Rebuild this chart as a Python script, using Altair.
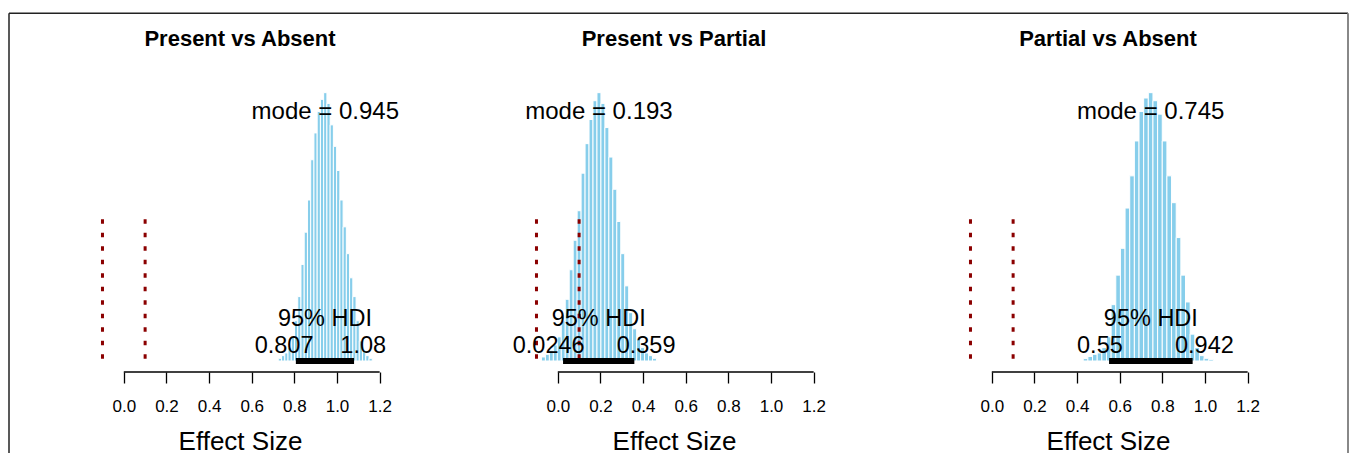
import altair as alt
import pandas as pd

# ---------------- data ----------------
titles = ["Present vs Absent", "Present vs Partial", "Partial vs Absent"]
modes = [0.945, 0.193, 0.745]
hdi_low = [0.807, 0.0246, 0.55]
hdi_high = [1.08, 0.359, 0.942]
hdi_low_text = ["0.807", "0.0246", "0.55"]
hdi_high_text = ["1.08", "0.359", "0.942"]
rope = [-0.1, 0.1]
tick_values = [0.0, 0.2, 0.4, 0.6, 0.8, 1.0, 1.2]

# histogram breaks (first break, bin width) and bar heights (relative density)
bin_start = [0.7246, -0.0767, 0.4289]
bin_width = [0.0152, 0.0186, 0.0218]
heights_1 = [0.01, 0.02, 0.03, 0.05, 0.09, 0.15, 0.24, 0.36, 0.48, 0.60, 0.75, 0.85,
             0.93, 0.975, 1.0, 0.96, 0.88, 0.80, 0.71, 0.60, 0.50, 0.40, 0.31, 0.24,
             0.15, 0.075, 0.04, 0.02, 0.01]
heights_2 = [0.015, 0.025, 0.04, 0.06, 0.09, 0.15, 0.23, 0.34, 0.45, 0.56, 0.70, 0.81,
             0.90, 0.97, 1.0, 0.96, 0.87, 0.76, 0.64, 0.52, 0.40, 0.28, 0.18, 0.12,
             0.08, 0.05, 0.03, 0.02, 0.01]
heights_3 = [0.009, 0.017, 0.025, 0.03, 0.05, 0.09, 0.21, 0.32, 0.42, 0.57, 0.69, 0.82,
             0.93, 0.98, 1.0, 0.97, 0.92, 0.82, 0.69, 0.59, 0.46, 0.32, 0.22, 0.10,
             0.05, 0.02, 0.01, 0.006]
heights = [heights_1, heights_2, heights_3]

# ---------------- layout / style ----------------
PW, PH = 434, 311
X_DOMAIN = [-0.4728, 1.5628]
Y_DOMAIN = [-0.041, 1.118]
MODE_Y, HDI_TXT_Y, LIM_Y, ROPE_TOP = 0.9, 0.13, 0.03, 0.528
FONT = "Liberation Sans"
TXT = 23.5
MODE_TXT = 24


def text_width(s, size=TXT):
    return sum((0.278 if c == "." else 0.556) for c in s) * size


def panel(i):
    xs = alt.Scale(domain=X_DOMAIN, nice=False, zero=False)
    ys = alt.Scale(domain=Y_DOMAIN, nice=False, zero=False)
    w = bin_width[i]
    h = heights[i]
    edges = [bin_start[i] + k * w for k in range(len(h))]
    hist = pd.DataFrame({"x0": edges, "x1": [e + w for e in edges], "h": h, "z": 0.0})

    bars = alt.Chart(hist).mark_bar(color="#87CEEB", stroke="white", strokeWidth=1).encode(
        x=alt.X("x0:Q", scale=xs, axis=alt.Axis(
            values=tick_values, format=".1f", domain=False, grid=False,
            tickColor="black", tickSize=11, tickWidth=1.3, labelFlush=False,
            labelFontSize=17, labelFont=FONT, labelColor="black", labelPadding=15,
            title="Effect Size", titleFontSize=26, titleFont=FONT,
            titleFontWeight="normal", titleColor="black", titlePadding=14)),
        x2="x1:Q",
        y=alt.Y("h:Q", scale=ys, axis=None),
        y2="z:Q",
    )

    axis_df = pd.DataFrame({"a": [tick_values[0]], "b": [tick_values[-1]]})
    axis_line = alt.Chart(axis_df).mark_rule(color="black", strokeWidth=1.3).encode(
        x=alt.X("a:Q", scale=xs), x2="b:Q", y=alt.value(PH))

    rope_df = pd.DataFrame({"x": rope, "top": [ROPE_TOP] * 2, "z": [0.0] * 2})
    rope_lines = alt.Chart(rope_df).mark_rule(
        color="#8B0000", strokeWidth=3, strokeDash=[4.5, 9]).encode(
        x=alt.X("x:Q", scale=xs), y=alt.Y("top:Q", scale=ys), y2="z:Q")

    hdi_df = pd.DataFrame({
        "lo": [hdi_low[i]], "hi": [hdi_high[i]], "mid": [(hdi_low[i] + hdi_high[i]) / 2],
        "mode": [modes[i]], "z": [0.0],
        "mode_lab": [f"mode = {modes[i]}"], "hdi_lab": ["95% HDI"],
        "lo_lab": [hdi_low_text[i]], "hi_lab": [hdi_high_text[i]],
        "my": [MODE_Y], "hy": [HDI_TXT_Y], "ly": [LIM_Y],
        "title": [titles[i]],
    })
    base = alt.Chart(hdi_df)
    hdi_bar = base.mark_rule(color="black", strokeWidth=6, strokeCap="butt").encode(
        x=alt.X("lo:Q", scale=xs), x2="hi:Q", y=alt.Y("z:Q", scale=ys))
    mode_txt = base.mark_text(fontSize=MODE_TXT, font=FONT, color="black",
                              baseline="alphabetic", align="center").encode(
        x=alt.X("mode:Q", scale=xs), y=alt.Y("my:Q", scale=ys), text="mode_lab:N")
    hdi_txt = base.mark_text(fontSize=TXT, font=FONT, color="black",
                             baseline="alphabetic", align="center").encode(
        x=alt.X("mid:Q", scale=xs), y=alt.Y("hy:Q", scale=ys), text="hdi_lab:N")
    lo_txt = base.mark_text(fontSize=TXT, font=FONT, color="black", baseline="alphabetic",
                            align="right", dx=0.3 * text_width(hdi_low_text[i])).encode(
        x=alt.X("lo:Q", scale=xs), y=alt.Y("ly:Q", scale=ys), text="lo_lab:N")
    hi_txt = base.mark_text(fontSize=TXT, font=FONT, color="black", baseline="alphabetic",
                            align="left", dx=-0.3 * text_width(hdi_high_text[i])).encode(
        x=alt.X("hi:Q", scale=xs), y=alt.Y("ly:Q", scale=ys), text="hi_lab:N")
    title_txt = base.mark_text(fontSize=22, font=FONT, fontWeight="bold", color="black",
                               baseline="alphabetic", align="center").encode(
        x=alt.value(PW / 2), y=alt.value(-15), text="title:N")

    layers = [bars, axis_line, rope_lines, hdi_bar, mode_txt, hdi_txt, lo_txt, hi_txt,
              title_txt]

    if i == 0:
        # outer frame of the figure
        fr = pd.DataFrame({"k": [0]})
        left = alt.Chart(fr).mark_rule(color="#222222", strokeWidth=1.5).encode(
            x=alt.value(-14), y=alt.value(-47.7), y2=alt.value(392))
        top = alt.Chart(fr).mark_rule(color="#222222", strokeWidth=1.5).encode(
            x=alt.value(-14), x2=alt.value(1325), y=alt.value(-47.7))
        right = alt.Chart(fr).mark_rule(color="#888888", strokeWidth=2).encode(
            x=alt.value(1325), y=alt.value(-47.7), y2=alt.value(392))
        layers += [left, top, right]

    return alt.layer(*layers).properties(width=PW, height=PH)


chart = alt.hconcat(panel(0), panel(1), panel(2), spacing=0, bounds="flush").properties(
    padding={"left": 0, "top": 4, "right": 0, "bottom": 0},
    background="white",
).configure_view(stroke=None)

chart.save("out.html", embed_options={"renderer": "svg", "actions": False})
